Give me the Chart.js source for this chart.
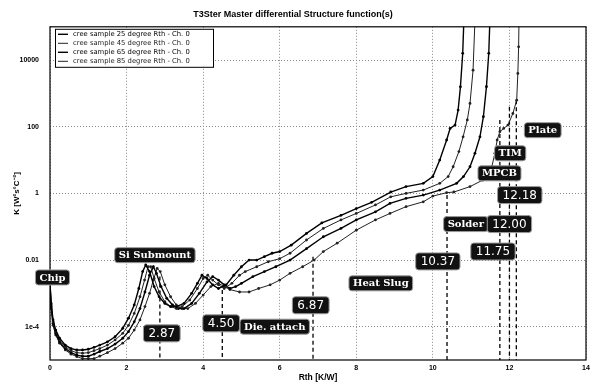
<!DOCTYPE html>
<html>
<head>
<meta charset="utf-8">
<script src="https://cdn.jsdelivr.net/npm/chart.js@4.4.1/dist/chart.umd.min.js"></script>
<style>
  html, body { margin: 0; padding: 0; background: #fff; }
  #wrap { width: 600px; height: 384px; }
</style>
</head>
<body>
<div id="wrap"><canvas id="c" width="600" height="384"></canvas></div>
<script>
// Series names
const seriesNames = [
  'cree sample 25 degree Rth - Ch. 0',
  'cree sample 45 degree Rth - Ch. 0',
  'cree sample 65 degree Rth - Ch. 0',
  'cree sample 85 degree Rth - Ch. 0'
];

// Cumulative thermal resistance Rth [K/W] and differential capacitance K for each sample
const rth25 = [0, 0.03, 0.08, 0.15, 0.25, 0.4, 0.55, 0.7, 0.85, 1.0, 1.15, 1.3, 1.5, 1.7, 1.9, 2.05, 2.2, 2.32, 2.42, 2.5,
  2.6, 2.72, 2.85, 3.0, 3.15, 3.3, 3.5, 3.7, 3.85, 3.97, 4.1, 4.25, 4.4, 4.6, 4.8, 5.0, 5.2, 5.4, 5.6, 5.8,
  6.0, 6.3, 6.7, 7.1, 7.6, 8.0, 8.4, 8.9, 9.3, 9.75, 10.0, 10.18, 10.36, 10.45, 10.58, 10.66, 10.72, 10.78, 10.81];
const k25 = [2.0e-3, 5.0e-4, 1.6e-4, 7.9e-5, 4.5e-5, 2.8e-5, 2.2e-5, 2.0e-5, 2.0e-5, 2.1e-5, 2.4e-5, 2.8e-5, 3.5e-5, 5.0e-5, 8.9e-5, 1.8e-4, 4.5e-4, 1.4e-3, 4.5e-3, 7.1e-3,
  4.5e-3, 1.6e-3, 7.9e-4, 5.0e-4, 4.0e-4, 4.0e-4, 5.0e-4, 1.0e-3, 2.0e-3, 3.5e-3, 2.8e-3, 1.8e-3, 1.4e-3, 1.8e-3, 3.5e-3, 6.3e-3, 1.0e-2, 1.0e-2, 1.26e-2, 1.6e-2,
  1.8e-2, 2.8e-2, 6.3e-2, 0.13, 0.22, 0.35, 0.54, 1.1, 1.6, 2.0, 3.2, 10, 40, 89, 112, 316, 1580, 1.6e4, 1.6e5];

const rth45 = [0, 0.03, 0.08, 0.15, 0.25, 0.4, 0.55, 0.7, 0.85, 1.0, 1.15, 1.3, 1.5, 1.7, 1.9, 2.05, 2.2, 2.35, 2.47, 2.56,
  2.63, 2.72, 2.85, 3.0, 3.15, 3.3, 3.45, 3.65, 3.85, 4.0, 4.12, 4.25, 4.4, 4.55, 4.75, 4.95, 5.1, 5.4, 5.7, 6.0,
  6.27, 6.7, 7.14, 7.6, 8.0, 8.5, 8.9, 9.3, 9.75, 10.18, 10.4, 10.53, 10.68, 10.79, 10.9, 10.97, 11.05, 11.1];
const k45 = [2.0e-3, 4.5e-4, 1.4e-4, 7.1e-5, 4.0e-5, 2.5e-5, 1.9e-5, 1.66e-5, 1.6e-5, 1.66e-5, 1.9e-5, 2.2e-5, 2.8e-5, 4.0e-5, 6.3e-5, 1.1e-4, 2.5e-4, 7.9e-4, 2.5e-3, 6.3e-3,
  6.3e-3, 2.8e-3, 1.1e-3, 5.6e-4, 4.0e-4, 3.5e-4, 4.0e-4, 6.3e-4, 1.4e-3, 2.8e-3, 3.5e-3, 2.5e-3, 1.8e-3, 1.4e-3, 2.0e-3, 3.5e-3, 4.5e-3, 6.3e-3, 8.9e-3, 1.1e-2,
  1.6e-2, 4.0e-2, 8.9e-2, 0.16, 0.25, 0.45, 0.79, 1.0, 1.26, 2.0, 3.2, 6.3, 18, 50, 160, 500, 5000, 1.6e5];

const rth65 = [0, 0.03, 0.08, 0.15, 0.25, 0.4, 0.55, 0.7, 0.85, 1.0, 1.15, 1.3, 1.5, 1.7, 1.9, 2.05, 2.2, 2.35, 2.48, 2.6,
  2.7, 2.78, 2.9, 3.05, 3.2, 3.35, 3.5, 3.7, 3.9, 4.1, 4.25, 4.4, 4.55, 4.7, 4.85, 5.0, 5.3, 5.6, 5.9, 6.27,
  6.7, 7.14, 7.6, 8.0, 8.5, 8.88, 9.3, 9.75, 10.18, 10.62, 10.8, 10.97, 11.1, 11.23, 11.32, 11.4, 11.46, 11.49];
const k65 = [2.0e-3, 4.0e-4, 1.26e-4, 6.3e-5, 3.5e-5, 2.2e-5, 1.66e-5, 1.4e-5, 1.3e-5, 1.3e-5, 1.5e-5, 1.8e-5, 2.2e-5, 3.0e-5, 4.5e-5, 7.1e-5, 1.4e-4, 3.5e-4, 1.1e-3, 3.5e-3,
  6.3e-3, 4.0e-3, 1.6e-3, 7.1e-4, 4.5e-4, 3.5e-4, 3.5e-4, 5.0e-4, 1.0e-3, 2.2e-3, 3.2e-3, 2.5e-3, 1.8e-3, 1.4e-3, 1.6e-3, 2.0e-3, 3.2e-3, 4.5e-3, 6.3e-3, 1.0e-2,
  2.2e-2, 5.0e-2, 8.9e-2, 0.16, 0.28, 0.5, 0.71, 0.89, 1.26, 2.0, 3.2, 6.3, 16, 50, 200, 1600, 1.6e4, 1.6e5];

const rth85 = [0, 0.03, 0.08, 0.15, 0.25, 0.4, 0.55, 0.7, 0.85, 1.0, 1.15, 1.3, 1.5, 1.7, 1.9, 2.05, 2.2, 2.35, 2.48, 2.6,
  2.7, 2.8, 2.88, 3.0, 3.15, 3.3, 3.45, 3.6, 3.8, 4.0, 4.2, 4.4, 4.55, 4.7, 4.95, 5.2, 5.45, 5.75, 6.0, 6.27,
  6.6, 6.9, 7.14, 7.5, 8.0, 8.5, 8.88, 9.3, 9.75, 10.0, 10.36, 10.55, 10.97, 11.3, 11.45, 11.54, 11.62, 11.68, 11.75, 11.85,
  11.96, 12.09, 12.19, 12.22, 12.24, 12.25];
const k85 = [2.0e-3, 3.5e-4, 1.1e-4, 5.6e-5, 3.2e-5, 2.0e-5, 1.5e-5, 1.26e-5, 1.1e-5, 1.1e-5, 1.1e-5, 1.3e-5, 1.66e-5, 2.2e-5, 3.2e-5, 4.5e-5, 7.9e-5, 1.6e-4, 4.0e-4, 1.0e-3,
  2.5e-3, 5.6e-3, 4.5e-3, 1.8e-3, 7.9e-4, 4.5e-4, 3.5e-4, 3.5e-4, 5.0e-4, 8.9e-4, 1.6e-3, 2.0e-3, 1.6e-3, 1.3e-3, 1.1e-3, 1.1e-3, 1.4e-3, 1.8e-3, 2.5e-3, 4.0e-3,
  6.3e-3, 1.0e-2, 1.8e-2, 3.2e-2, 7.9e-2, 0.16, 0.25, 0.4, 0.56, 0.83, 1.05, 1.1, 1.6, 2.5, 4.0, 6.3, 16, 40, 71, 89,
  112, 250, 630, 4000, 2.5e4, 1.6e5];

// Axis ticks
const xTickValues = [0, 2, 4, 6, 8, 10, 12, 14];
const yTickValues = [1e-4, 1e-2, 1, 100, 10000];
const yTickLabels = ['1e-4', '0.01', '1', '100', '10000'];

// Layer boundaries picked on the structure function (Rth) and the K level where each marker starts
const cutValues = [2.87, 4.50, 6.87, 10.37, 11.75, 12.00, 12.18];
const cutTops   = [3.2e-3, 1.26e-3, 1.26e-2, 0.89, 160, 400, 630];

// Layer names
const layerNames = ['Chip', 'Si Submount', 'Die. attach', 'Heat Slug', 'Solder', 'MPCB', 'TIM', 'Plate'];

// Where each tag sits, in axis units (Rth, K)
const layerTagPlace = [
  [0.065, 3.0e-3], [2.74, 1.4e-2], [5.87, 1.0e-4], [8.64, 2.0e-3],
  [10.86, 0.12], [11.74, 4.0], [12.02, 16], [12.87, 79]
];
const cutTagPlace = [
  [2.92, 6.3e-5], [4.47, 1.26e-4], [6.81, 4.4e-4], [10.13, 9.1e-3],
  [11.57, 1.8e-2], [12.0, 0.12], [12.27, 0.89]
];

const seriesX = [rth25, rth45, rth65, rth85];
const seriesK = [k25, k45, k65, k85];
const lineWidths = [1.4, 1.0, 1.4, 1.0];
const lineColors = ['#000', '#222', '#000', '#222'];

const datasets = seriesNames.map((name, s) => ({
  label: name,
  data: seriesX[s].map((x, i) => ({ x: x, y: seriesK[s][i] })),
  borderColor: lineColors[s],
  backgroundColor: lineColors[s],
  borderWidth: lineWidths[s],
  pointRadius: 1.4,
  pointStyle: 'circle',
  pointBorderWidth: 0,
  pointBackgroundColor: lineColors[s],
  tension: 0,
  fill: false
}));

cutValues.forEach((v, i) => {
  datasets.push({
    label: 'cut ' + v,
    isCut: true,
    data: [{ x: v, y: cutTops[i] }, { x: v, y: 1e-5 }],
    borderColor: '#000',
    borderWidth: 1.3,
    borderDash: [4, 3],
    pointRadius: 0,
    fill: false
  });
});

function roundRect(ctx, x, y, w, h, r) {
  ctx.beginPath();
  ctx.moveTo(x + r, y);
  ctx.lineTo(x + w - r, y);
  ctx.quadraticCurveTo(x + w, y, x + w, y + r);
  ctx.lineTo(x + w, y + h - r);
  ctx.quadraticCurveTo(x + w, y + h, x + w - r, y + h);
  ctx.lineTo(x + r, y + h);
  ctx.quadraticCurveTo(x, y + h, x, y + h - r);
  ctx.lineTo(x, y + r);
  ctx.quadraticCurveTo(x, y, x + r, y);
  ctx.closePath();
}

function drawTag(ctx, text, cx, cy, font, padX, h) {
  ctx.font = font;
  const w = ctx.measureText(text).width + padX * 2;
  roundRect(ctx, cx - w / 2, cy - h / 2, w, h, 3);
  ctx.fillStyle = '#111';
  ctx.fill();
  ctx.lineWidth = 1;
  ctx.strokeStyle = '#9a9a9a';
  ctx.stroke();
  ctx.fillStyle = '#fff';
  ctx.textAlign = 'center';
  ctx.textBaseline = 'middle';
  ctx.fillText(text, cx, cy + 0.5);
}

const decorPlugin = {
  id: 'decor',
  beforeDraw(chart) {
    const ctx = chart.ctx;
    ctx.save();
    ctx.fillStyle = '#fff';
    ctx.fillRect(0, 0, chart.width, chart.height);
    ctx.restore();
  },
  afterDatasetsDraw(chart) {
    const ctx = chart.ctx;
    const ca = chart.chartArea;
    const xs = chart.scales.x, ys = chart.scales.y;
    ctx.save();

    // plot frame
    ctx.strokeStyle = '#000';
    ctx.lineWidth = 1.2;
    ctx.strokeRect(ca.left, ca.top, ca.right - ca.left, ca.bottom - ca.top);

    // legend box
    const lx = ca.left + 5, ly = ca.top + 2, lw = 158, lh = 38;
    ctx.fillStyle = '#fff';
    ctx.fillRect(lx, ly, lw, lh);
    ctx.strokeStyle = '#000';
    ctx.lineWidth = 1;
    ctx.strokeRect(lx + 0.5, ly + 0.5, lw, lh);
    ctx.font = '6.8px "DejaVu Sans"';
    ctx.textAlign = 'left';
    ctx.textBaseline = 'middle';
    chart.data.datasets.filter(d => !d.isCut).forEach((d, i) => {
      const yy = ly + 5.5 + i * 9;
      ctx.strokeStyle = d.borderColor;
      ctx.lineWidth = d.borderWidth;
      ctx.beginPath();
      ctx.moveTo(lx + 3, yy);
      ctx.lineTo(lx + 13, yy);
      ctx.stroke();
      ctx.fillStyle = d.borderColor;
      ctx.fillText(d.label, lx + 18, yy);
    });

    // layer name tags
    layerNames.forEach((name, i) => {
      const p = layerTagPlace[i];
      drawTag(ctx, name, xs.getPixelForValue(p[0]), ys.getPixelForValue(p[1]),
        'bold 10px "DejaVu Serif"', 4, 15);
    });
    // boundary value tags
    cutValues.forEach((v, i) => {
      const p = cutTagPlace[i];
      drawTag(ctx, v.toFixed(2), xs.getPixelForValue(p[0]), ys.getPixelForValue(p[1]),
        '12px "DejaVu Sans"', 5, 17);
    });
    ctx.restore();
  }
};

new Chart(document.getElementById('c'), {
  type: 'line',
  data: { datasets: datasets },
  plugins: [decorPlugin],
  options: {
    responsive: false,
    animation: false,
    devicePixelRatio: 1,
    layout: { padding: { left: 0, right: 14, top: 0, bottom: 0 } },
    plugins: {
      legend: { display: false },
      tooltip: { enabled: false },
      title: {
        display: true,
        text: 'T3Ster Master differential Structure function(s)',
        color: '#000',
        font: { family: '"Liberation Sans"', size: 9, weight: 'bold' },
        padding: { top: 9, bottom: 7 }
      }
    },
    scales: {
      x: {
        type: 'linear',
        min: 0, max: 14,
        afterBuildTicks: (s) => { s.ticks = xTickValues.map(v => ({ value: v })); },
        afterFit: (s) => { s.height = 24; },
        ticks: {
          color: '#000',
          padding: 4,
          font: { family: '"Liberation Sans"', size: 7, weight: 'bold' }
        },
        grid: { color: '#8a8a8a', lineWidth: 1, drawTicks: false },
        border: { display: false, dash: [1, 2] },
        title: {
          display: true,
          text: 'Rth [K/W]',
          color: '#000',
          font: { family: '"Liberation Sans"', size: 8.5, weight: 'bold' },
          padding: { top: 0, bottom: 1 }
        }
      },
      y: {
        type: 'logarithmic',
        min: 1e-5, max: 1e5,
        afterBuildTicks: (s) => { s.ticks = yTickValues.map(v => ({ value: v })); },
        afterFit: (s) => { s.width = 50; },
        ticks: {
          color: '#000',
          padding: 11,
          font: { family: '"Liberation Sans"', size: 7, weight: 'bold' },
          callback: (value, index) => yTickLabels[index]
        },
        grid: { color: '#8a8a8a', lineWidth: 1, drawTicks: false },
        border: { display: false, dash: [1, 2] },
        title: {
          display: true,
          text: 'K [W²s°C⁻²]',
          color: '#000',
          font: { family: '"Liberation Sans"', size: 8, weight: 'bold' },
          padding: { top: 12, bottom: 0 }
        }
      }
    }
  }
});
</script>
</body>
</html>
